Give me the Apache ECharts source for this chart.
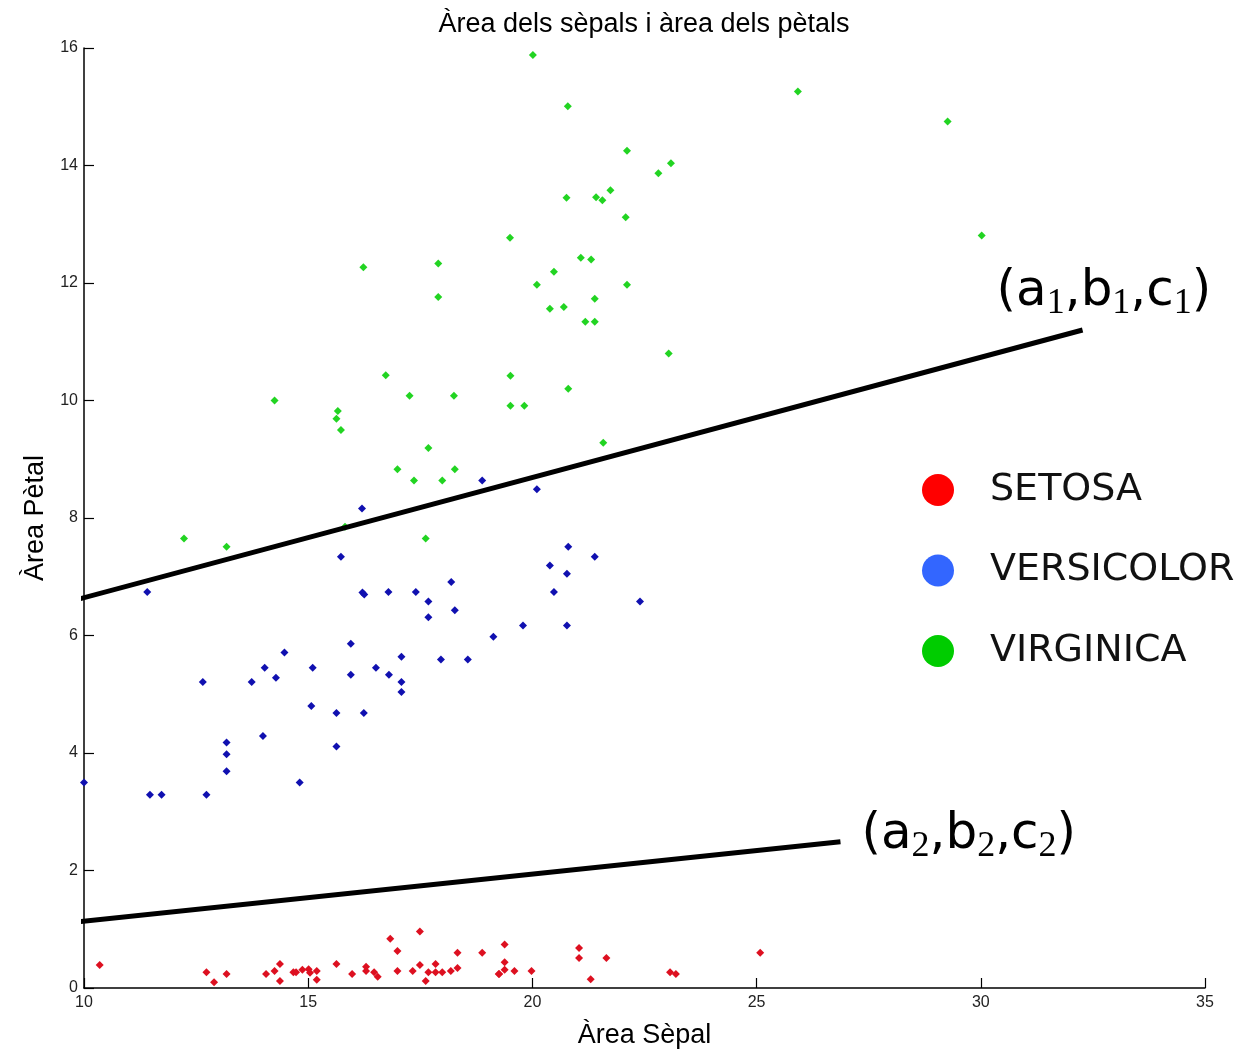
<!DOCTYPE html>
<html>
<head>
<meta charset="utf-8">
<script src="https://cdn.jsdelivr.net/npm/echarts@6/dist/echarts.min.js"></script>
<style>
html,body{margin:0;padding:0;background:#fff;}
#chart{width:1248px;height:1050px;}
</style>
</head>
<body>
<div id="chart"></div>
<script>
const titleText = 'Àrea dels sèpals i àrea dels pètals';
const xName = 'Àrea Sèpal';
const yName = 'Àrea Pètal';
const speciesNames = ['SETOSA', 'VERSICOLOR', 'VIRGINICA'];

const setosa = [
  [10.35,0.39],[12.73,0.27],[12.90,0.10],[13.18,0.24],[14.06,0.24],[14.25,0.29],[14.37,0.41],[14.37,0.12],
  [14.67,0.27],[14.73,0.27],[14.87,0.31],[15.01,0.32],[15.04,0.26],[15.19,0.29],[15.19,0.14],[15.63,0.41],
  [15.98,0.24],[16.29,0.36],[16.29,0.29],[16.47,0.27],[16.55,0.19],[16.83,0.84],[16.99,0.63],[16.99,0.29],
  [17.33,0.29],[17.49,0.96],[17.49,0.39],[17.62,0.12],[17.68,0.27],[17.84,0.41],[17.84,0.27],[17.99,0.27],
  [18.18,0.29],[18.33,0.60],[18.33,0.34],[18.88,0.60],[19.25,0.24],[19.38,0.74],[19.38,0.44],[19.38,0.31],
  [19.26,0.24],[19.60,0.29],[19.98,0.29],[21.04,0.68],[21.04,0.51],[21.65,0.51],[21.30,0.15],[23.07,0.27],
  [23.20,0.24],[25.08,0.60]
];

const versicolor = [
  [18.88,8.64],[16.20,8.16],[15.73,7.34],[11.41,6.74],[16.21,6.73],[16.25,6.70],[16.79,6.74],[17.40,6.74],
  [18.19,6.91],[17.68,6.58],[18.27,6.43],[17.68,6.31],[19.13,5.98],[20.10,8.49],[20.80,7.51],[21.39,7.34],
  [20.39,7.19],[20.77,7.05],[20.48,6.74],[22.40,6.58],[19.79,6.17],[20.77,6.17],[15.95,5.86],[14.47,5.71],
  [17.08,5.64],[17.96,5.59],[18.56,5.59],[14.03,5.45],[15.10,5.45],[16.51,5.45],[15.95,5.33],[16.80,5.33],
  [14.28,5.28],[12.65,5.21],[13.74,5.21],[17.08,5.21],[17.08,5.04],[15.07,4.80],[15.63,4.68],[16.24,4.68],
  [13.99,4.29],[15.63,4.11],[13.18,4.18],[13.18,3.98],[13.18,3.69],[10.00,3.50],[14.81,3.50],[11.47,3.29],
  [11.73,3.29],[12.73,3.29]
];

const virginica = [
  [16.23,12.27],[17.90,12.33],[17.90,11.76],
  [20.01,15.88],[20.79,15.01],[22.11,14.25],[23.09,14.04],[22.81,13.87],[21.74,13.58],[21.42,13.46],
  [21.56,13.41],[20.76,13.45],[22.08,13.12],[19.50,12.77],[21.08,12.43],[21.31,12.40],[20.48,12.19],
  [20.10,11.97],[22.11,11.97],[21.39,11.73],[20.39,11.56],[20.70,11.59],[21.18,11.34],[21.39,11.34],
  [25.92,15.26],[29.26,14.75],[30.02,12.81],
  [16.73,10.43],[14.25,10.00],[17.26,10.08],[18.25,10.08],[15.66,9.82],[15.63,9.69],[15.73,9.50],
  [17.68,9.19],[16.99,8.83],[18.27,8.83],[17.36,8.64],[17.99,8.64],[15.82,7.85],[12.23,7.65],[13.18,7.51],
  [17.62,7.65],
  [23.04,10.80],[19.51,10.42],[20.80,10.20],[19.51,9.91],[19.82,9.91],[21.58,9.28]
];

const boundary1 = [[9.79, 6.60], [32.27, 11.20]];
const boundary2 = [[9.79, 1.12], [26.87, 2.49]];
const boundary1Label = '{t|(a}{s|1}{t|,b}{s|1}{t|,c}{s|1}{t|)}';
const boundary2Label = '{t|(a}{s|2}{t|,b}{s|2}{t|,c}{s|2}{t|)}';

const richStyle = {
  t: { fontSize: 50, fontFamily: 'DejaVu Sans', color: '#000', lineHeight: 60 },
  s: { fontSize: 36, fontFamily: 'Liberation Serif', color: '#000', verticalAlign: 'bottom', lineHeight: 4 }
};

const chart = echarts.init(document.getElementById('chart'));
chart.setOption({
  backgroundColor: '#fff',
  animation: false,
  title: {
    text: titleText,
    left: 639,
    textAlign: 'center',
    top: 6,
    textStyle: { fontFamily: 'Liberation Sans', fontSize: 27, fontWeight: 'normal', color: '#000' }
  },
  grid: { left: 84, right: 43, top: 48, bottom: 62, containLabel: false, outerBoundsMode: 'none' },
  xAxis: {
    type: 'value', min: 10, max: 35, interval: 5,
    name: xName, nameLocation: 'middle', nameGap: 34,
    nameTextStyle: { fontFamily: 'Liberation Sans', fontSize: 27, color: '#000' },
    axisLine: { show: true, onZero: false, lineStyle: { color: '#000', width: 1.5 } },
    axisTick: { show: true, inside: true, length: 10, lineStyle: { color: '#000', width: 1.2 } },
    axisLabel: { fontFamily: 'Liberation Sans', fontSize: 16, color: '#222', margin: 7 },
    splitLine: { show: false }
  },
  yAxis: {
    type: 'value', min: 0, max: 16, interval: 2,
    name: yName, nameLocation: 'middle', nameGap: 35, nameRotate: 90,
    nameTextStyle: { fontFamily: 'Liberation Sans', fontSize: 27, color: '#000' },
    axisLine: { show: true, onZero: false, lineStyle: { color: '#000', width: 1.5 } },
    axisTick: { show: true, inside: true, length: 10, lineStyle: { color: '#000', width: 1.2 } },
    axisLabel: { fontFamily: 'Liberation Sans', fontSize: 16, color: '#222', margin: 6 },
    splitLine: { show: false }
  },
  legend: {
    orient: 'vertical',
    left: 922,
    top: 471,
    padding: 0,
    itemWidth: 32,
    itemHeight: 32,
    itemGap: 42.5,
    icon: 'circle',
    selectedMode: false,
    textStyle: { fontFamily: 'DejaVu Sans', fontSize: 38, color: '#111', padding: [0, 0, 0, 31] },
    data: [
      { name: speciesNames[0], itemStyle: { color: '#ff0000' } },
      { name: speciesNames[1], itemStyle: { color: '#3366ff' } },
      { name: speciesNames[2], itemStyle: { color: '#00cc00' } }
    ]
  },
  series: [
    { name: speciesNames[0], type: 'scatter', data: setosa, symbol: 'diamond', symbolSize: 8, itemStyle: { color: '#dd1020', opacity: 1 }, z: 2 },
    { name: speciesNames[1], type: 'scatter', data: versicolor, symbol: 'diamond', symbolSize: 8, itemStyle: { color: '#1010b0', opacity: 1 }, z: 2 },
    { name: speciesNames[2], type: 'scatter', data: virginica, symbol: 'diamond', symbolSize: 8, itemStyle: { color: '#22d422', opacity: 1 }, z: 2 },
    { name: 'b1', type: 'line', data: boundary1, showSymbol: false, symbol: 'none', clip: false,
      lineStyle: { color: '#000', width: 5 }, z: 3,
      endLabel: { show: true, formatter: boundary1Label, rich: richStyle, distance: 8, offset: [-94, -38] } },
    { name: 'b2', type: 'line', data: boundary2, showSymbol: false, symbol: 'none', clip: false,
      lineStyle: { color: '#000', width: 5 }, z: 3,
      endLabel: { show: true, formatter: boundary2Label, rich: richStyle, distance: 8, offset: [13, -7] } }
  ]
});
</script>
</body>
</html>
